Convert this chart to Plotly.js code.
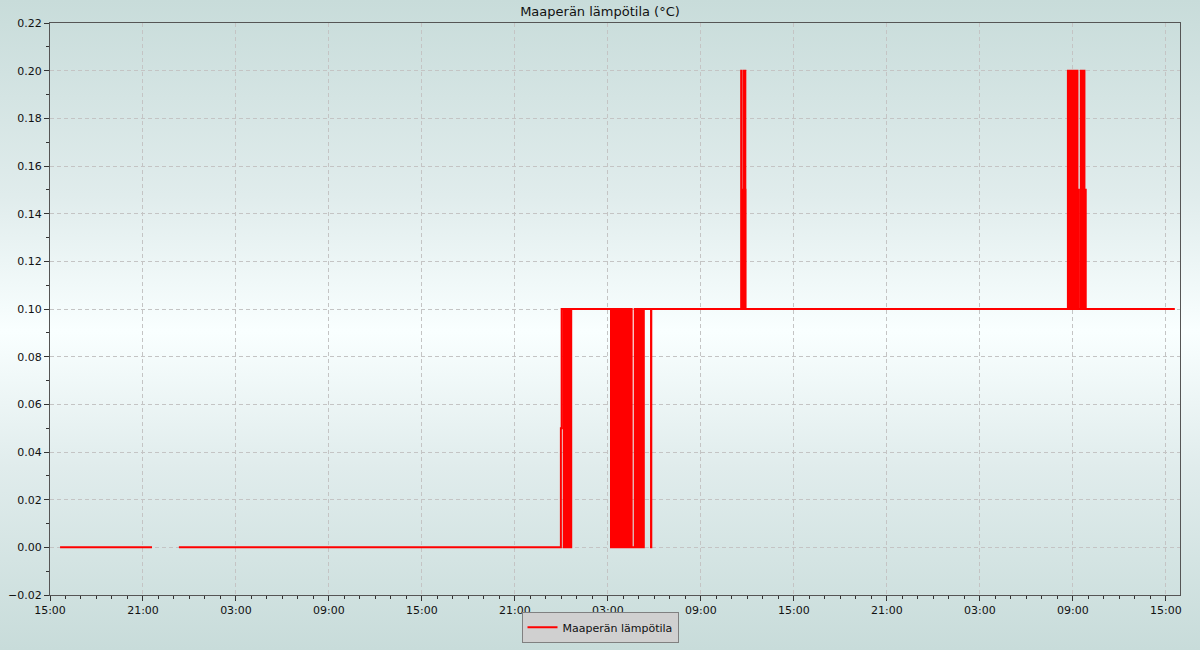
<!DOCTYPE html>
<html>
<head>
<meta charset="utf-8">
<script src="https://cdn.plot.ly/plotly-3.0.1.min.js"></script>
<style>
  html, body { margin: 0; padding: 0; }
  #chart {
    width: 1200px; height: 650px;
    background: linear-gradient(to bottom, #c8dcda 0%, #e0ecec 30%, #f9ffff 51%, #e0ecec 72%, #c8dcda 100%);
  }
</style>
</head>
<body>
<div id="chart"></div>
<script>
const seriesName = 'Maaperän lämpötila';
const chartTitle = 'Maaperän lämpötila (°C)';

// Step points: each value holds from its timestamp until the next one.
const times = [
  '2024-01-01 15:39', '2024-01-01 21:35', '2024-01-01 21:36',
  '2024-01-01 23:19',
  '2024-01-02 23:58', '2024-01-03 00:01', '2024-01-03 00:09', '2024-01-03 00:14', '2024-01-03 00:17',
  '2024-01-03 00:20', '2024-01-03 00:23', '2024-01-03 00:26', '2024-01-03 00:29', '2024-01-03 00:32',
  '2024-01-03 00:35', '2024-01-03 00:38',
  '2024-01-03 03:12', '2024-01-03 03:14', '2024-01-03 03:16', '2024-01-03 03:18', '2024-01-03 03:20',
  '2024-01-03 03:22', '2024-01-03 03:24', '2024-01-03 03:27', '2024-01-03 03:30', '2024-01-03 03:33',
  '2024-01-03 03:36', '2024-01-03 03:39', '2024-01-03 03:42', '2024-01-03 03:45', '2024-01-03 03:48',
  '2024-01-03 03:51', '2024-01-03 03:54', '2024-01-03 03:55', '2024-01-03 03:56', '2024-01-03 03:57',
  '2024-01-03 03:58', '2024-01-03 04:00', '2024-01-03 04:02', '2024-01-03 04:04', '2024-01-03 04:06',
  '2024-01-03 04:08', '2024-01-03 04:10', '2024-01-03 04:12', '2024-01-03 04:14', '2024-01-03 04:16',
  '2024-01-03 04:18', '2024-01-03 04:20', '2024-01-03 04:22', '2024-01-03 04:24', '2024-01-03 04:26',
  '2024-01-03 04:28', '2024-01-03 04:30', '2024-01-03 04:32',
  '2024-01-03 04:44', '2024-01-03 04:46', '2024-01-03 04:48', '2024-01-03 04:50', '2024-01-03 04:52',
  '2024-01-03 04:54',
  '2024-01-03 05:00', '2024-01-03 05:02', '2024-01-03 05:04', '2024-01-03 05:06', '2024-01-03 05:08',
  '2024-01-03 05:10', '2024-01-03 05:12', '2024-01-03 05:14', '2024-01-03 05:15', '2024-01-03 05:16',
  '2024-01-03 05:17', '2024-01-03 05:18', '2024-01-03 05:19',
  '2024-01-03 05:47', '2024-01-03 05:48',
  '2024-01-03 11:36', '2024-01-03 11:38', '2024-01-03 11:39', '2024-01-03 11:40', '2024-01-03 11:41',
  '2024-01-03 11:42', '2024-01-03 11:43', '2024-01-03 11:44', '2024-01-03 11:45', '2024-01-03 11:47',
  '2024-01-03 11:49', '2024-01-03 11:50', '2024-01-03 11:52', '2024-01-03 11:53',
  '2024-01-04 08:41', '2024-01-04 08:42', '2024-01-04 08:43', '2024-01-04 08:44', '2024-01-04 08:45',
  '2024-01-04 08:46', '2024-01-04 08:47', '2024-01-04 08:48', '2024-01-04 08:49', '2024-01-04 08:50',
  '2024-01-04 08:51', '2024-01-04 08:52', '2024-01-04 08:53', '2024-01-04 08:55', '2024-01-04 08:57',
  '2024-01-04 08:59', '2024-01-04 09:01', '2024-01-04 09:03', '2024-01-04 09:05', '2024-01-04 09:07',
  '2024-01-04 09:08', '2024-01-04 09:09', '2024-01-04 09:10', '2024-01-04 09:11', '2024-01-04 09:12',
  '2024-01-04 09:14', '2024-01-04 09:16', '2024-01-04 09:18', '2024-01-04 09:19', '2024-01-04 09:21',
  '2024-01-04 09:22', '2024-01-04 09:23', '2024-01-04 09:31', '2024-01-04 09:33', '2024-01-04 09:35',
  '2024-01-04 09:37', '2024-01-04 09:39', '2024-01-04 09:41', '2024-01-04 09:43', '2024-01-04 09:45',
  '2024-01-04 09:46', '2024-01-04 09:48', '2024-01-04 09:49', '2024-01-04 09:50',
  '2024-01-04 15:35'
];
const values = [
  0, 0, null,
  0,
  0.05, 0.1, 0, 0.1, 0,
  0.1, 0, 0.1, 0, 0.1,
  0, 0.1,
  0, 0.1, 0, 0.1, 0,
  0.1, 0, 0.1, 0, 0.1,
  0, 0.1, 0, 0.1, 0,
  0.1, 0, 0.05, 0, 0.05,
  0.1, 0, 0.1, 0, 0.1,
  0, 0.1, 0, 0.1, 0,
  0.1, 0, 0.1, 0, 0.1,
  0, 0.1, 0,
  0.1, 0, 0.1, 0, 0.1,
  0,
  0.1, 0, 0.1, 0, 0.1,
  0, 0.1, 0, 0.05, 0,
  0.05, 0, 0.1,
  0, 0.1,
  0.2, 0.1, 0.15, 0.1, 0.15,
  0.1, 0.15, 0.1, 0.15, 0.2,
  0.1, 0.2, 0.15, 0.1,
  0.2, 0.1, 0.2, 0.1, 0.2,
  0.1, 0.2, 0.1, 0.15, 0.1,
  0.15, 0.2, 0.1, 0.2, 0.1,
  0.2, 0.1, 0.2, 0.1, 0.2,
  0.1, 0.15, 0.1, 0.15, 0.2,
  0.1, 0.2, 0.1, 0.15, 0.1,
  0.15, 0.1, 0.2, 0.1, 0.2,
  0.1, 0.2, 0.1, 0.2, 0.1,
  0.15, 0.1, 0.15, 0.1,
  0.1
];

const xRange = ['2024-01-01 15:00', '2024-01-04 15:55'];
const yRange = [-0.02, 0.22];

const trace = {
  x: times, y: values, type: 'scatter', mode: 'lines', name: seriesName,
  line: { color: '#ff0000', width: 2, shape: 'hv' },
  connectgaps: false
};

const font = { family: 'DejaVu Sans, sans-serif', size: 11, color: '#111' };

const layout = {
  width: 1200, height: 650,
  paper_bgcolor: 'rgba(0,0,0,0)', plot_bgcolor: 'rgba(0,0,0,0)',
  margin: { l: 50, r: 20, t: 23, b: 55 },
  font: font,
  title: { text: chartTitle, font: { family: 'DejaVu Sans, sans-serif', size: 13, color: '#111' },
           x: 0.5, xanchor: 'center', y: 0.983, yanchor: 'middle', yref: 'container' },
  showlegend: true,
  legend: {
    orientation: 'h', x: 0.5, xanchor: 'center', xref: 'container',
    y: 0.035, yanchor: 'middle', yref: 'container',
    bgcolor: '#d0d0d0', bordercolor: '#808080', borderwidth: 1,
    font: font, itemwidth: 30
  },
  xaxis: {
    type: 'date', range: xRange,
    tick0: '2024-01-01 15:00', dtick: 21600000, tickformat: '%H:%M',
    ticks: 'outside', ticklen: 5, tickcolor: '#333',
    showgrid: true, gridcolor: '#c4c4c4', griddash: '4px,3px', gridwidth: 1,
    showline: true, linecolor: '#555', linewidth: 1, mirror: true,
    zeroline: false,
    minor: { dtick: 3600000, ticks: 'outside', ticklen: 3, tickcolor: '#333', showgrid: false },
    tickfont: font
  },
  yaxis: {
    range: yRange, dtick: 0.02, tick0: 0, tickformat: '.2f',
    ticks: 'outside', ticklen: 5, tickcolor: '#333',
    showgrid: true, gridcolor: '#c4c4c4', griddash: '4px,3px', gridwidth: 1,
    showline: true, linecolor: '#555', linewidth: 1, mirror: true,
    zeroline: false,
    minor: { dtick: 0.01, ticks: 'outside', ticklen: 3, tickcolor: '#333', showgrid: false },
    tickfont: font
  }
};

Plotly.newPlot('chart', [trace], layout, { displayModeBar: false, staticPlot: true });
</script>
</body>
</html>
